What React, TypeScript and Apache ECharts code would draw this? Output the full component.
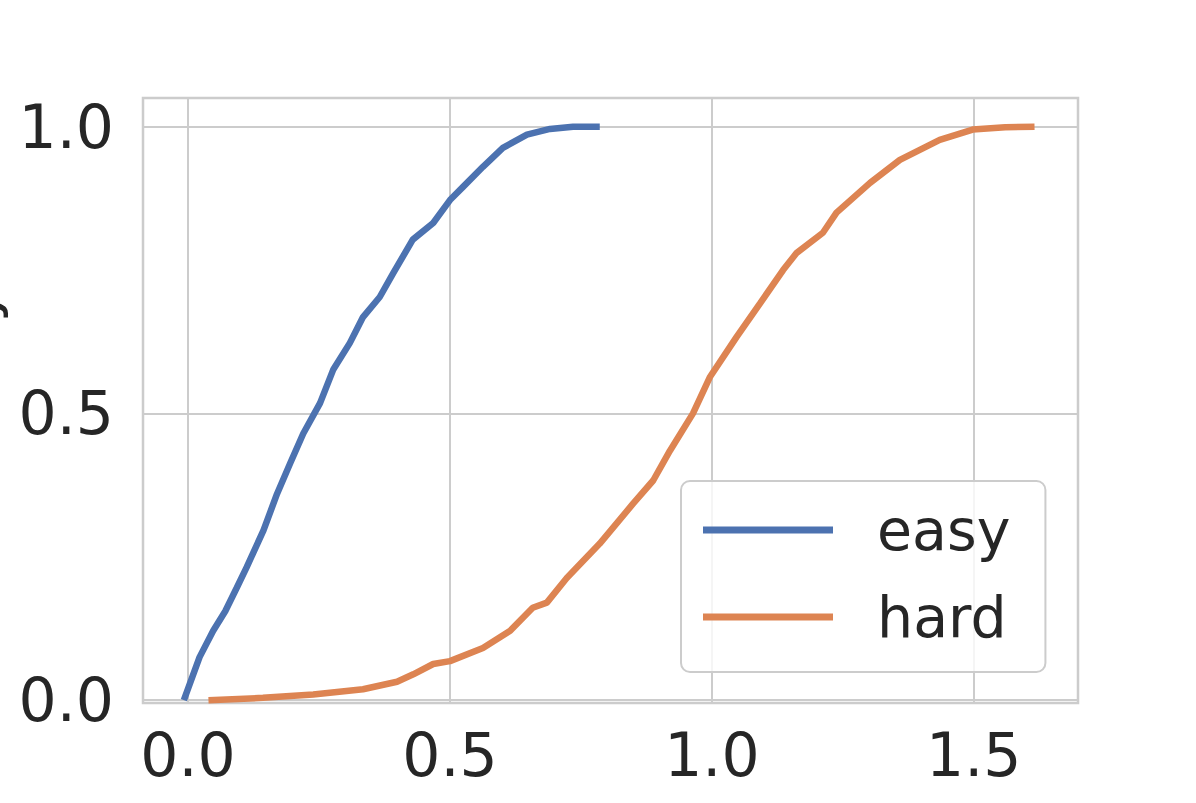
import React, { useEffect, useRef } from "react";
import * as echarts from "echarts";

const easyX = [-0.008, 0.022, 0.048, 0.071, 0.093, 0.112, 0.144, 0.170, 0.195, 0.220, 0.252, 0.277, 0.309, 0.334, 0.366, 0.392, 0.429, 0.468, 0.500, 0.525, 0.563, 0.601, 0.647, 0.691, 0.735, 0.786];
const easyY = [0.0, 0.075, 0.121, 0.155, 0.196, 0.232, 0.296, 0.360, 0.413, 0.465, 0.518, 0.576, 0.623, 0.668, 0.703, 0.745, 0.803, 0.832, 0.872, 0.895, 0.930, 0.963, 0.986, 0.996, 1.0, 1.0];

const hardX = [0.039, 0.143, 0.239, 0.334, 0.399, 0.430, 0.468, 0.500, 0.563, 0.615, 0.658, 0.685, 0.723, 0.786, 0.850, 0.888, 0.920, 0.964, 0.996, 1.047, 1.092, 1.136, 1.162, 1.212, 1.238, 1.302, 1.359, 1.435, 1.498, 1.560, 1.616];
const hardY = [0.0, 0.004, 0.010, 0.019, 0.032, 0.045, 0.063, 0.068, 0.091, 0.121, 0.161, 0.170, 0.213, 0.273, 0.343, 0.383, 0.435, 0.500, 0.563, 0.633, 0.692, 0.750, 0.780, 0.815, 0.850, 0.902, 0.942, 0.977, 0.995, 0.999, 1.0];

const seriesNames = ["easy", "hard"];
const seriesColors = ["#4c72b0", "#dd8452"];
const yAxisTitle = "Density";

const FONT = "DejaVu Sans";
const TEXT = "#262626";
const GRID = "#cccccc";

const tickFmt = (v: number) =>
  Math.abs(v / 0.5 - Math.round(v / 0.5)) < 1e-6 ? v.toFixed(1) : "";

export default function App() {
  const ref = useRef<HTMLDivElement>(null);
  useEffect(() => {
    if (!ref.current) return;
    const chart = echarts.init(ref.current, undefined, { renderer: "svg" });
    const pairs = (xs: number[], ys: number[]) => xs.map((x, i) => [x, ys[i]]);
    chart.setOption({
      animation: false,
      backgroundColor: "#ffffff",
      textStyle: { fontFamily: FONT },
      grid: {
        left: 143,
        top: 98,
        right: 118,
        bottom: 100,
        show: true,
        borderColor: GRID,
        borderWidth: 2.5,
        backgroundColor: "transparent",
      },
      xAxis: {
        type: "value",
        min: -0.086,
        max: 1.699,
        splitNumber: 4,
        axisLine: { show: false },
        axisTick: { show: false },
        splitLine: { show: true, lineStyle: { color: GRID, width: 2 } },
        axisLabel: {
          fontSize: 60,
          color: TEXT,
          fontFamily: FONT,
          margin: 22,
          showMinLabel: false,
          showMaxLabel: false,
          formatter: tickFmt,
        },
      },
      yAxis: {
        type: "value",
        min: -0.005,
        max: 1.05,
        splitNumber: 2,
        axisLine: { show: false },
        axisTick: { show: false },
        splitLine: { show: true, lineStyle: { color: GRID, width: 2 } },
        axisLabel: {
          fontSize: 60,
          color: TEXT,
          fontFamily: FONT,
          margin: 29,
          showMinLabel: false,
          showMaxLabel: false,
          formatter: tickFmt,
        },
      },
      legend: {
        orient: "vertical",
        left: 681,
        top: 481,
        padding: [16, 35, 22, 22],
        itemWidth: 130,
        itemHeight: 7,
        itemGap: 21,
        icon: "rect",
        itemStyle: { borderWidth: 0 },
        backgroundColor: "rgba(255,255,255,0.8)",
        borderColor: GRID,
        borderWidth: 2,
        borderRadius: 9,
        textStyle: {
          fontSize: 57,
          color: TEXT,
          fontFamily: FONT,
          lineHeight: 66,
          padding: [0, 0, 0, 39],
        },
        data: seriesNames,
      },
      graphic: [
        {
          type: "text",
          x: -24,
          y: 398,
          rotation: Math.PI / 2,
          style: {
            text: yAxisTitle,
            font: `58px "${FONT}"`,
            fill: TEXT,
            textAlign: "center",
            textVerticalAlign: "middle",
          },
        },
      ],
      series: [
        {
          name: seriesNames[0],
          type: "line",
          data: pairs(easyX, easyY),
          showSymbol: false,
          symbol: "none",
          color: seriesColors[0],
          lineStyle: { color: seriesColors[0], width: 6.5 },
        },
        {
          name: seriesNames[1],
          type: "line",
          data: pairs(hardX, hardY),
          showSymbol: false,
          symbol: "none",
          color: seriesColors[1],
          lineStyle: { color: seriesColors[1], width: 6.5 },
        },
      ],
    });
    return () => chart.dispose();
  }, []);
  return (
    <div
      ref={ref}
      style={{ position: "absolute", left: 0, top: 0, width: 1196, height: 803 }}
    />
  );
}
